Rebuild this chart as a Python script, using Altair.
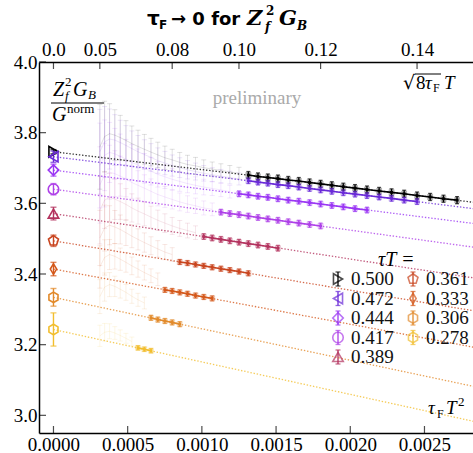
import altair as alt
import pandas as pd

# ---------------- data ----------------
tau_labels = ["0.500", "0.472", "0.444", "0.417", "0.389", "0.361", "0.333", "0.306", "0.278"]
colors = ["#000000", "#6a2ad8", "#9a36f4", "#ae40e8", "#b3325e", "#c9451f", "#d4581b", "#e28a2b", "#f2be2e"]
shapes = [
    "triangle-right", "triangle-left", "diamond", "circle", "triangle-up",
    "M0,-1L0.951,-0.309L0.588,0.809L-0.588,0.809L-0.951,-0.309Z",
    "M0,-1L0.6,0L0,1L-0.6,0Z",
    "M0,-1L0.866,-0.5L0.866,0.5L0,1L-0.866,0.5L-0.866,-0.5Z",
    "M0,-1L0.866,-0.5L0.866,0.5L0,1L-0.866,0.5L-0.866,-0.5Z",
]
marker_sizes = [110, 110, 170, 100, 110, 120, 160, 120, 120]

# flow-time grid in units of sqrt(8 tau_F) T
flow_s = [0.0500, 0.0525, 0.0550, 0.0575, 0.0600, 0.0625, 0.0650, 0.0675, 0.0700, 0.0725,
          0.0750, 0.0775, 0.0800, 0.0825, 0.0850, 0.0875, 0.0900, 0.0925, 0.0950, 0.0975,
          0.1000, 0.1025, 0.1050, 0.1075, 0.1100, 0.1125, 0.1150, 0.1175, 0.1200, 0.1225,
          0.1250, 0.1275, 0.1300, 0.1325, 0.1350, 0.1375, 0.1400, 0.1425, 0.1450, 0.1475]

# extrapolated values (tau_F -> 0) and errors
y0 = [3.746, 3.732, 3.694, 3.640, 3.571, 3.494, 3.414, 3.334, 3.243]
y0_err = [0.006, 0.016, 0.017, 0.016, 0.018, 0.016, 0.019, 0.025, 0.047]

# linear fit lines: end point
fit_x_end = 0.00283
fit_y_end = [3.603, 3.585, 3.543, 3.476, 3.389, 3.296, 3.193, 3.082, 2.983]

# data used in the fit (index of first grid point + values)
solid_start = [21, 21, 20, 18, 16, 13, 11, 9, 7]
solid_y = [
    [3.680, 3.676, 3.673, 3.670, 3.666, 3.663, 3.659, 3.655, 3.651, 3.647, 3.643, 3.639, 3.635, 3.631, 3.627, 3.622, 3.618, 3.613, 3.609],
    [3.664, 3.660, 3.657, 3.653, 3.650, 3.646, 3.642, 3.638, 3.634, 3.630, 3.626, 3.622, 3.618, 3.614, 3.609, 3.605],
    [3.627, 3.624, 3.620, 3.617, 3.613, 3.609, 3.606, 3.602, 3.598, 3.594, 3.590, 3.585, 3.581],
    [3.575, 3.571, 3.568, 3.564, 3.560, 3.556, 3.552, 3.548, 3.544, 3.540, 3.536],
    [3.506, 3.502, 3.498, 3.494, 3.490, 3.486, 3.482, 3.478, 3.473],
    [3.434, 3.431, 3.427, 3.423, 3.419, 3.415, 3.411, 3.407, 3.402],
    [3.355, 3.352, 3.348, 3.344, 3.339, 3.335, 3.331],
    [3.276, 3.271, 3.267, 3.263, 3.258],
    [3.191, 3.187, 3.183],
]
solid_err = [0.010, 0.008, 0.008, 0.008, 0.008, 0.007, 0.007, 0.007, 0.006]

# data not used in the fit (faint), starting at the first grid point
pale_y = [
    [3.760, 3.789, 3.797, 3.793, 3.786, 3.778, 3.769, 3.761, 3.753, 3.745, 3.737, 3.729, 3.723, 3.716, 3.710, 3.706, 3.701, 3.697, 3.693, 3.689, 3.685],
    [3.746, 3.774, 3.782, 3.779, 3.772, 3.764, 3.755, 3.746, 3.738, 3.730, 3.721, 3.714, 3.707, 3.701, 3.695, 3.690, 3.685, 3.681, 3.677, 3.673, 3.669],
    [3.707, 3.736, 3.744, 3.740, 3.733, 3.725, 3.716, 3.708, 3.699, 3.691, 3.682, 3.675, 3.668, 3.662, 3.656, 3.651, 3.646, 3.642, 3.638, 3.633],
    [3.652, 3.680, 3.688, 3.684, 3.677, 3.669, 3.659, 3.651, 3.643, 3.634, 3.625, 3.618, 3.611, 3.604, 3.598, 3.593, 3.587, 3.583],
    [3.581, 3.609, 3.617, 3.612, 3.605, 3.597, 3.587, 3.578, 3.570, 3.561, 3.552, 3.544, 3.536, 3.529, 3.523, 3.517],
    [3.502, 3.530, 3.538, 3.533, 3.526, 3.517, 3.507, 3.498, 3.489, 3.480, 3.471, 3.462, 3.455],
    [3.420, 3.447, 3.455, 3.450, 3.442, 3.433, 3.423, 3.414, 3.404, 3.395, 3.385],
    [3.336, 3.363, 3.370, 3.365, 3.357, 3.348, 3.337, 3.327, 3.318],
    [3.225, 3.235, 3.238, 3.233, 3.226, 3.218, 3.209],
]
pale_err = [0.12, 0.10, 0.085, 0.072, 0.063, 0.056, 0.050, 0.046, 0.042, 0.039, 0.036,
            0.033, 0.030, 0.028, 0.026, 0.024, 0.022, 0.020, 0.019, 0.018, 0.017]
# relative size of the faint error bars for each series
pale_err_scale = [1.0, 1.0, 1.0, 0.9, 0.8, 0.65, 0.5, 0.4, 0.25]

bottom_ticks = [0.0, 0.0005, 0.0010, 0.0015, 0.0020, 0.0025]
top_ticks_s = [0.0, 0.05, 0.08, 0.10, 0.12, 0.14]
left_ticks = [3.0, 3.2, 3.4, 3.6, 3.8, 4.0]

# ---------------- tables ----------------
def to_x(s):
    return s * s / 8.0

solid_rows, pale_rows, fit_rows, zero_rows = [], [], [], []
for i, lab in enumerate(tau_labels):
    for j, v in enumerate(solid_y[i]):
        k = solid_start[i] + j
        solid_rows.append({"tau": lab, "x": to_x(flow_s[k]), "y": v,
                           "lo": v - solid_err[i], "hi": v + solid_err[i]})
    for j, v in enumerate(pale_y[i]):
        e = pale_err[j] * pale_err_scale[i]
        pale_rows.append({"tau": lab, "x": to_x(flow_s[j]), "y": v, "lo": v - e, "hi": v + e})
    fit_rows.append({"tau": lab, "x": 0.0, "y": y0[i]})
    fit_rows.append({"tau": lab, "x": fit_x_end, "y": fit_y_end[i]})
    zero_rows.append({"tau": lab, "x": 0.0, "y": y0[i],
                      "lo": y0[i] - y0_err[i], "hi": y0[i] + y0_err[i]})

solid_df = pd.DataFrame(solid_rows)
pale_df = pd.DataFrame(pale_rows)
fit_df = pd.DataFrame(fit_rows)
zero_df = pd.DataFrame(zero_rows)

W, H = 434, 371
PADL, PADT = 39, 62
xscale = alt.Scale(domain=[-0.0000975, 0.002827], nice=False, zero=False)
yscale = alt.Scale(domain=[2.95, 4.0], nice=False, zero=False)
cscale = alt.Scale(domain=tau_labels, range=colors)
color = alt.Color("tau:N", scale=cscale, legend=None)
X = alt.X("x:Q", scale=xscale, axis=None)
SERIF = "'Liberation Serif', serif"

layers = []

# faint points
layers.append(alt.Chart(pale_df).mark_rule(strokeWidth=1, opacity=0.12).encode(
    x=X, y=alt.Y("lo:Q", scale=yscale, axis=None), y2="hi:Q", color=color))
for fld in ["lo", "hi"]:
    layers.append(alt.Chart(pale_df).mark_tick(orient="horizontal", size=5, thickness=1, opacity=0.12).encode(
        x=X, y=alt.Y(f"{fld}:Q", scale=yscale, axis=None), color=color))
layers.append(alt.Chart(pale_df).mark_line(strokeWidth=1, opacity=0.12).encode(
    x=X, y=alt.Y("y:Q", scale=yscale, axis=None), color=color, detail="tau:N"))

# fit lines
layers.append(alt.Chart(fit_df).mark_line(strokeWidth=1.3, strokeDash=[1.4, 1.8], opacity=0.8, clip=True).encode(
    x=X, y=alt.Y("y:Q", scale=yscale, axis=None), color=color, detail="tau:N"))

# fitted data
layers.append(alt.Chart(solid_df).mark_line(strokeWidth=1.6).encode(
    x=X, y=alt.Y("y:Q", scale=yscale, axis=None), color=color, detail="tau:N"))
layers.append(alt.Chart(solid_df).mark_rule(strokeWidth=1.3).encode(
    x=X, y=alt.Y("lo:Q", scale=yscale, axis=None), y2="hi:Q", color=color))
for fld in ["lo", "hi"]:
    layers.append(alt.Chart(solid_df).mark_tick(orient="horizontal", size=4, thickness=1.3).encode(
        x=X, y=alt.Y(f"{fld}:Q", scale=yscale, axis=None), color=color))
layers.append(alt.Chart(solid_df).mark_point(shape="square", filled=True, size=34, opacity=0.3).encode(
    x=X, y=alt.Y("y:Q", scale=yscale, axis=None), color=color))
layers.append(alt.Chart(solid_df).mark_point(shape="square", filled=True, size=8, opacity=1).encode(
    x=X, y=alt.Y("y:Q", scale=yscale, axis=None), color=color))

# extrapolated points
shape_enc = alt.Shape("tau:N", scale=alt.Scale(domain=tau_labels, range=shapes), legend=None)
size_enc = alt.Size("tau:O", scale=alt.Scale(domain=tau_labels, range=marker_sizes), legend=None)
layers.append(alt.Chart(zero_df).mark_rule(strokeWidth=1.4).encode(
    x=X, y=alt.Y("lo:Q", scale=yscale, axis=None), y2="hi:Q", color=color))
for fld in ["lo", "hi"]:
    layers.append(alt.Chart(zero_df).mark_tick(orient="horizontal", size=6, thickness=1.4).encode(
        x=X, y=alt.Y(f"{fld}:Q", scale=yscale, axis=None), color=color))
layers.append(alt.Chart(zero_df).mark_point(filled=False, strokeWidth=1.6, opacity=1).encode(
    x=X, y=alt.Y("y:Q", scale=yscale, axis=None), color=color, shape=shape_enc, size=size_enc))

# ---------------- axes with inward ticks ----------------
bottom_axis = alt.Axis(values=bottom_ticks, format=".4f", tickSize=0, labelPadding=2,
                       labelFont=SERIF, labelFontSize=19, labelColor="black",
                       domainColor="black", domainWidth=1.5, grid=False, title=None, orient="bottom")
top_vals = [to_x(s) for s in top_ticks_s]
top_axis = alt.Axis(values=top_vals, tickSize=0, labelPadding=3,
                    labelExpr="datum.value < 1e-9 ? '0.0' : format(sqrt(8*datum.value), '.2f')",
                    labelFont=SERIF, labelFontSize=19, labelColor="black",
                    domainColor="black", domainWidth=1.5, grid=False, title=None, orient="top")
left_axis = alt.Axis(values=left_ticks, format=".1f", tickSize=0, labelPadding=2,
                     labelFont=SERIF, labelFontSize=19, labelColor="black",
                     domainColor="black", domainWidth=1.5, grid=False, title=None, orient="left")

layers.append(alt.Chart(pd.DataFrame({"v": bottom_ticks})).mark_tick(
    orient="vertical", size=7, thickness=1.2, color="black").encode(
    x=alt.X("v:Q", scale=xscale, axis=bottom_axis), y=alt.value(H - 3.5)))
layers.append(alt.Chart(pd.DataFrame({"v": top_vals})).mark_tick(
    orient="vertical", size=7, thickness=1.2, color="black").encode(
    x=alt.X("v:Q", scale=xscale, axis=top_axis), y=alt.value(3.5)))
layers.append(alt.Chart(pd.DataFrame({"v": left_ticks})).mark_tick(
    orient="horizontal", size=7, thickness=1.2, color="black").encode(
    y=alt.Y("v:Q", scale=yscale, axis=left_axis), x=alt.value(3.5)))

# ---------------- legend (manual, markers with error bars) ----------------
leg_rows = []
for i, lab in enumerate(tau_labels):
    col, row = divmod(i, 5)
    lx = 338 + 75 * col - PADL
    ly = 279 + 19.5 * row - PADT
    leg_rows.append({"tau": lab, "lx": lx, "ly": ly, "ly1": ly - 7, "ly2": ly + 7, "tx": lx + 13})
leg_df = pd.DataFrame(leg_rows)
LX = alt.X("lx:Q", scale=None, axis=None)
layers.append(alt.Chart(leg_df).mark_rule(strokeWidth=1.3).encode(
    x=LX, y=alt.Y("ly1:Q", scale=None, axis=None), y2="ly2:Q", color=color))
for fld in ["ly1", "ly2"]:
    layers.append(alt.Chart(leg_df).mark_tick(orient="horizontal", size=5, thickness=1.3).encode(
        x=LX, y=alt.Y(f"{fld}:Q", scale=None, axis=None), color=color))
layers.append(alt.Chart(leg_df).mark_point(filled=False, strokeWidth=1.6).encode(
    x=LX, y=alt.Y("ly:Q", scale=None, axis=None), color=color, shape=shape_enc, size=size_enc))
layers.append(alt.Chart(leg_df).mark_text(align="left", baseline="middle", font=SERIF,
                                          fontSize=19, color="#111111").encode(
    x=alt.X("tx:Q", scale=None, axis=None), y=alt.Y("ly:Q", scale=None, axis=None), text="tau:N"))

# ---------------- annotations ----------------
one = pd.DataFrame({"a": [0]})


def txt(s, cx, cy, size=19, font=SERIF, style="normal", weight="normal", color="black", align="left"):
    return alt.Chart(one).mark_text(text=s, font=font, fontSize=size, fontStyle=style,
                                    fontWeight=weight, color=color, align=align,
                                    baseline="alphabetic").encode(
        x=alt.value(cx - PADL), y=alt.value(cy - PADT))


def hline(x1, x2, cy, w=1.2):
    return alt.Chart(one).mark_rule(color="black", strokeWidth=w).encode(
        x=alt.value(x1 - PADL), x2=alt.value(x2 - PADL), y=alt.value(cy - PADT))


SANS = "DejaVu Sans"
DSERIF = "DejaVu Serif"
# title
layers += [
    txt("τ", 147, 25, size=20, font=SANS, weight="bold"),
    txt("F", 159, 29, size=12, font=SANS, weight="bold"),
    txt("→ 0 for", 171, 25, size=18, font=SANS, weight="bold"),
    txt("Z", 247, 25, size=21, font=DSERIF, style="italic", weight="bold"),
    txt("2", 266, 15, size=12, font=DSERIF, weight="bold"),
    txt("f", 265, 31, size=12, font=DSERIF, style="italic", weight="bold"),
    txt("G", 279, 25, size=21, font=DSERIF, style="italic", weight="bold"),
    txt("B", 297, 30, size=12, font=DSERIF, style="italic", weight="bold"),
]
# y label as fraction
layers += [
    txt("Z", 53, 96, size=20, style="italic"),
    txt("2", 65, 86, size=13),
    txt("f", 65, 100, size=13, style="italic"),
    txt("G", 73, 96, size=20, style="italic"),
    txt("B", 88, 99, size=13, style="italic"),
    hline(51, 104, 103),
    txt("G", 52, 121, size=20, style="italic"),
    txt("norm", 67, 113, size=13),
]
# top-right axis label
layers += [
    txt("√", 403, 89, size=19, font=DSERIF),
    hline(415, 441, 74, w=1),
    txt("8", 416, 89, size=19),
    txt("τ", 425, 89, size=19, style="italic"),
    txt("F", 433, 92, size=12),
    txt("T", 444, 89, size=19, style="italic"),
]
# preliminary
layers.append(txt("preliminary", 257, 104, size=19, color="#aaaaaa", align="center"))
# legend title
layers += [
    txt("τT =", 378, 266, size=20, style="italic"),
]
# bottom-right axis label
layers += [
    txt("τ", 428, 414, size=19, style="italic"),
    txt("F", 437, 418, size=12),
    txt("T", 446, 414, size=19, style="italic"),
    txt("2", 458, 406, size=13),
]

chart = alt.layer(*layers).resolve_axis(x="independent", y="independent").properties(
    width=W, height=H,
    autosize=alt.AutoSizeParams(type="none"),
    padding={"left": PADL, "top": PADT, "right": 0, "bottom": 453 - PADT - H},
).configure_view(stroke=None)

chart.save("out.html", embed_options={"renderer": "svg", "actions": False})
